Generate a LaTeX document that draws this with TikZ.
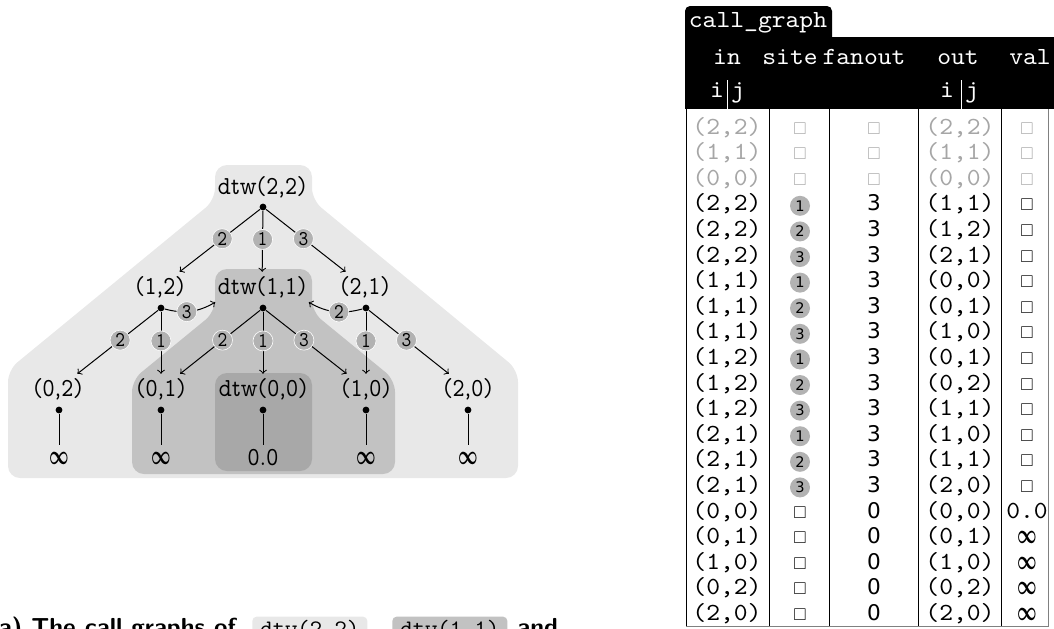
\documentclass[tikz,border=0pt]{standalone}
\usepackage{amsmath,amssymb,bm}
\usepackage{graphicx}
\usepackage{fontspec}
\newfontfamily\treefont{lmmonoprop10-regular.otf}[FakeStretch=0.88]
\newfontfamily\tabfont{lmmono10-regular.otf}[FakeStretch=1.07]
\newfontfamily\numfont{DejaVu Sans}
\definecolor{shadeA}{gray}{0.91}
\definecolor{shadeB}{gray}{0.76}
\definecolor{shadeC}{gray}{0.66}
\definecolor{sitegray}{gray}{0.70}
\colorlet{rowg}{black!35}
\colorlet{rowk}{black}
\newcommand{\nbox}{{\fontsize{8.5pt}{10pt}\selectfont$\square$}}
\newcommand{\infval}{\scalebox{1}[1.7]{\fontsize{8.5pt}{10pt}\selectfont$\bm{\infty}$}}

\begin{document}
\begin{tikzpicture}[x=0.5pt,y=0.5pt,
    lbl/.style={font=\treefont\fontsize{13pt}{15pt}\selectfont,inner xsep=1pt,inner ysep=2pt},
    leaf/.style={font=\treefont\fontsize{13pt}{15pt}\selectfont,inner sep=0pt,minimum height=13pt},
    dot/.style={circle,fill,inner sep=0pt,minimum size=3.4pt},
    call/.style={->,line width=0.5pt},
    tag/.style={circle,fill=sitegray,draw=white,line width=0.3pt,inner sep=0pt,minimum size=10pt,
                font=\treefont\fontsize{10.5pt}{11pt}\selectfont},
    cell/.style={anchor=base,inner sep=0pt,font=\tabfont\fontsize{12.3pt}{13pt}\selectfont},
    num/.style={cell,font=\numfont\fontsize{10.8pt}{12pt}\selectfont},
    site/.style={circle,fill=sitegray,inner sep=0pt,minimum size=10pt,
                 font=\numfont\fontsize{7.3pt}{8pt}\selectfont},
    hdr/.style={cell,text=white},
    capt/.style={anchor=base west,inner sep=0pt,font=\sffamily\bfseries\fontsize{12.3pt}{14pt}\selectfont},
    code/.style={anchor=base west,inner xsep=4pt,inner ysep=1.5pt,rounded corners=2pt,
                 font=\tabfont\fontsize{11pt}{13pt}\selectfont}]
    \useasboundingbox (0,0) rectangle (1054,-628);

    % nested call regions
    \fill[shadeA,rounded corners=6pt] (215,-165) -- (312,-165) -- (312,-200) -- (518,-370)
        -- (518,-478) -- (8,-478) -- (8,-370) -- (215,-200) -- cycle;
    \fill[shadeB,rounded corners=6pt] (215,-269) -- (312,-269) -- (312,-312) -- (395,-380)
        -- (395,-474) -- (132,-474) -- (132,-380) -- (215,-312) -- cycle;
    \fill[shadeC,rounded corners=6pt] (215,-373) rectangle (312,-471);

    % calls
    \node[lbl] (n22) at (262,-187) {dtw(2,2)};
    \node[lbl] (n12) at (160,-287) {(1,2)};
    \node[lbl] (n11) at (262,-287) {dtw(1,1)};
    \node[lbl] (n21) at (365,-287) {(2,1)};
    \node[lbl] (n02) at (58,-389) {(0,2)};
    \node[lbl] (n01) at (161,-389) {(0,1)};
    \node[lbl] (n00) at (263,-389) {dtw(0,0)};
    \node[lbl] (n10) at (366,-389) {(1,0)};
    \node[lbl] (n20) at (468,-389) {(2,0)};

    \node[dot] (d22) at (263,-207) {};
    \node[dot] (d12) at (161,-308) {};
    \node[dot] (d11) at (263,-308) {};
    \node[dot] (d21) at (366,-308) {};
    \node[dot] (d02) at (59,-410) {};
    \node[dot] (d01) at (161,-410) {};
    \node[dot] (d00) at (263,-410) {};
    \node[dot] (d10) at (366,-410) {};
    \node[dot] (d20) at (468,-410) {};

    \node[leaf] (v02) at (59,-458) {\infval};
    \node[leaf] (v01) at (161,-458) {\infval};
    \node[leaf] (v00) at (263,-458) {0.0};
    \node[leaf] (v10) at (366,-458) {\infval};
    \node[leaf] (v20) at (468,-458) {\infval};

    \draw[call] (d22) -- node[tag,pos=.47] {1} (n11);
    \draw[call] (d22) -- node[tag,pos=.47] {2} (n12);
    \draw[call] (d22) -- node[tag,pos=.47] {3} (n21);
    \draw[call] (d12) -- node[tag,pos=.47] {1} (n01);
    \draw[call] (d12) -- node[tag,pos=.47] {2} (n02);
    \draw[call] (d12) to[out=-15,in=210] node[tag,pos=.42] {3} (n11.south west);
    \draw[call] (d11) -- node[tag,pos=.47] {1} (n00);
    \draw[call] (d11) -- node[tag,pos=.47] {2} (n01);
    \draw[call] (d11) -- node[tag,pos=.47] {3} (n10);
    \draw[call] (d21) -- node[tag,pos=.47] {1} (n10);
    \draw[call] (d21) to[out=195,in=-30] node[tag,pos=.42] {2} (n11.south east);
    \draw[call] (d21) -- node[tag,pos=.47] {3} (n20);

    \draw[line width=0.5pt] (d02) -- (v02);
    \draw[line width=0.5pt] (d01) -- (v01);
    \draw[line width=0.5pt] (d00) -- (v00);
    \draw[line width=0.5pt] (d10) -- (v10);
    \draw[line width=0.5pt] (d20) -- (v20);

    % table header
    \fill[black,rounded corners=2.5pt] (685,-6) rectangle (832,-45);
    \fill[black] (685,-37) rectangle (1060,-109);
    \node[hdr] (tname) at (758,-27) {call\_graph};
    \node[hdr] (hin) at (727,-64) {in};
    \node[hdr] (hsite) at (790,-64) {site};
    \node[hdr] (hfan) at (864,-64) {fanout};
    \node[hdr] (hout) at (958,-64) {out};
    \node[hdr] (hval) at (1030,-64) {val};
    \node[hdr] (hi1) at (717,-97) {i};
    \node[hdr] (hj1) at (738,-97) {j};
    \node[hdr] (hi2) at (947,-97) {i};
    \node[hdr] (hj2) at (972,-97) {j};
    \draw[white,line width=0.5pt] (727,-80) -- (727,-109);
    \draw[white,line width=0.5pt] (961,-80) -- (961,-109);

    % table body
    \foreach \x in {686,769,829,918,1001}
        \draw[line width=0.5pt] (\x,-109) -- (\x,-626);
    \draw[gray,line width=0.5pt] (1048,-109) -- (1048,-626) -- (686,-626);

    \foreach \c/\a/\b/\s/\f/\p/\q/\v [count=\r from 0] in {
        g/2/2/0/\nbox/2/2/\nbox, g/1/1/0/\nbox/1/1/\nbox, g/0/0/0/\nbox/0/0/\nbox,
        k/2/2/1/3/1/1/\nbox, k/2/2/2/3/1/2/\nbox, k/2/2/3/3/2/1/\nbox,
        k/1/1/1/3/0/0/\nbox, k/1/1/2/3/0/1/\nbox, k/1/1/3/3/1/0/\nbox,
        k/1/2/1/3/0/1/\nbox, k/1/2/2/3/0/2/\nbox, k/1/2/3/3/1/1/\nbox,
        k/2/1/1/3/1/0/\nbox, k/2/1/2/3/1/1/\nbox, k/2/1/3/3/2/0/\nbox,
        k/0/0/0/0/0/0/0.0, k/0/1/0/0/0/1/\infval, k/1/0/0/0/1/0/\infval,
        k/0/2/0/0/0/2/\infval, k/2/0/0/0/2/0/\infval} {
        \node[cell,text=row\c] (in\r) at (727,{-134-25.6*\r}) {(\a,\b)};
        \ifnum\s=0
            \node[cell,text=row\c] (st\r) at (800,{-134-25.6*\r}) {\nbox};
        \else
            \node[site] (st\r) at (800,{-129-25.6*\r}) {\s};
        \fi
        \node[num,text=row\c] (fan\r) at (874,{-134-25.6*\r}) {\f};
        \node[cell,text=row\c] (out\r) at (960,{-134-25.6*\r}) {(\p,\q)};
        \node[cell,text=row\c] (val\r) at (1027,{-134-25.6*\r}) {\v};
    }

    % caption
    \node[capt] (cap) at (-12,-635) {(a) The call graphs of};
    \node[code,fill=shadeA] (c22) at (252,-635) {dtw(2,2)};
    \node[capt] (comma) at (c22.base east) {,};
    \node[code,fill=shadeB] (c11) at (392,-635) {dtw(1,1)};
    \node[capt] (cand) at (517,-635) {and};
\end{tikzpicture}
\end{document}
